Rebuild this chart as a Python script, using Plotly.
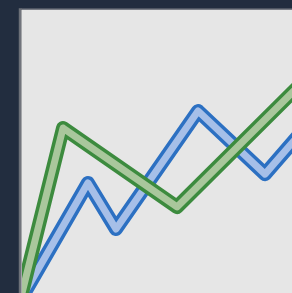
import plotly.graph_objects as go

# data (x: 0..10 across the plot, y: 0..10 bottom to top)
blue_x = [0.0, 2.44, 3.48, 6.52, 9.0, 10.5]
blue_y = [-0.15, 3.89, 2.26, 6.43, 4.20, 5.85]
green_x = [0.0, 1.52, 5.74, 10.5]
green_y = [0.0, 5.83, 3.04, 7.55]

BG_PAPER = "#222d3f"
BG_PLOT = "#e6e6e6"

fig = go.Figure()

def add_line(x, y, outer, inner):
    fig.add_trace(go.Scatter(x=x, y=y, mode="lines",
                             line=dict(color=outer, width=14),
                             hoverinfo="skip", showlegend=False))
    fig.add_trace(go.Scatter(x=x, y=y, mode="lines",
                             line=dict(color=inner, width=7),
                             hoverinfo="skip", showlegend=False))

add_line(blue_x, blue_y, "#2c70c2", "#a6bfe8")
add_line(green_x, green_y, "#3c8b3e", "#a9c79c")

# shadow edge on left and top of plot area
fig.add_shape(type="rect", xref="paper", yref="paper",
              x0=-0.012, x1=0.0, y0=0, y1=1.006,
              fillcolor="#6c7078", line_width=0, layer="above")
fig.add_shape(type="rect", xref="paper", yref="paper",
              x0=-0.004, x1=0.0, y0=0, y1=1.0,
              fillcolor="#a4a6a9", line_width=0, layer="above")
fig.add_shape(type="rect", xref="paper", yref="paper",
              x0=0.0, x1=1.0, y0=1.0, y1=1.005,
              fillcolor="#7a7e86", line_width=0, layer="above")

fig.update_layout(
    width=292, height=293,
    margin=dict(l=22, r=0, t=10, b=0),
    paper_bgcolor=BG_PAPER,
    plot_bgcolor=BG_PLOT,
    xaxis=dict(range=[0, 10], visible=False, fixedrange=True),
    yaxis=dict(range=[0, 10], visible=False, fixedrange=True),
    showlegend=False,
)

post = """
document.body.style.margin='0';
document.body.style.overflow='hidden';
document.body.style.background='%s';
var st=document.createElement('style');
st.innerHTML='.scatterlayer path.js-line{stroke-linejoin:round !important;}';
document.head.appendChild(st);
""" % BG_PAPER

fig.write_html("out.html", config={"displayModeBar": False}, post_script=post)
